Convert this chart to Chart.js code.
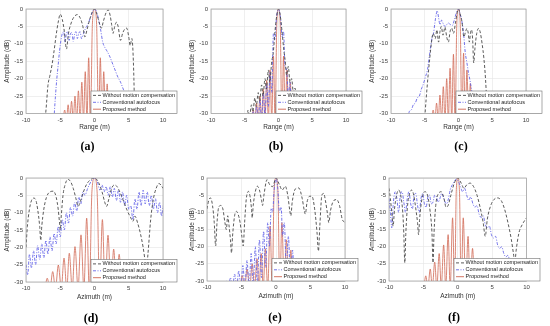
<!DOCTYPE html>
<html><head><meta charset="utf-8">
<script src="https://cdn.jsdelivr.net/npm/chart.js@4.4.1/dist/chart.umd.min.js"></script>
<style>
html,body{margin:0;padding:0;background:#fff;}
#wrap{position:relative;width:550px;height:326px;overflow:hidden;background:#fff;}
.cv{position:absolute;}
.lab{position:absolute;font-family:"Liberation Serif",serif;font-weight:bold;font-size:12px;color:#000;transform:translate(-50%,-50%);white-space:nowrap;}
</style></head><body><div id="wrap"></div>
<script>
// ---------- data (x in m, amplitude in dB) ----------
const seriesNames = ['Without motion compensation','Conventional autofocus','Proposed method'];
const xTicks = [-10,-5,0,5,10];
const yTicks = [0,-5,-10,-15,-20,-25,-30];
const panelLabels = ['(a)','(b)','(c)','(d)','(e)','(f)'];
const xTitles = ['Range (m)','Range (m)','Range (m)','Azimuth (m)','Azimuth (m)','Azimuth (m)'];

const a_noMC = [[-7.3,-34],[-7.0,-27],[-6.8,-22],[-6.5,-19],[-6.2,-16],[-5.9,-12],[-5.6,-7.5],[-5.3,-3.8],[-5.0,-1.5],[-4.7,-3],[-4.4,-6.5],[-4.1,-11.5],[-3.8,-7],[-3.4,-4],[-3.0,-2.3],[-2.5,-1.6],[-2.0,-3],[-1.7,-5],[-1.4,-8],[-1.1,-6],[-0.7,-3],[-0.35,-1],[0,0],[0.35,-1.5],[0.7,-4],[1.0,-5.5],[1.3,-3.5],[1.7,-1],[2.0,-0.3],[2.3,-2],[2.5,-4.5],[2.7,-7],[2.95,-5],[3.2,-3.8],[3.45,-5],[3.8,-9],[4.1,-7],[4.4,-5.8],[4.7,-5.5],[5.0,-8],[5.2,-10.5],[5.45,-8.5],[5.6,-11.5],[5.75,-20],[5.9,-34]];
const a_conv = [[-6.0,-34],[-5.7,-25],[-5.5,-20],[-5.3,-16],[-5.1,-12],[-4.9,-9],[-4.7,-7],[-4.5,-6.5],[-4.3,-9.5],[-4.1,-7],[-3.9,-6.5],[-3.7,-9],[-3.5,-7],[-3.3,-6.8],[-3.1,-9.3],[-2.9,-7.2],[-2.7,-6.5],[-2.5,-8.5],[-2.3,-7],[-2.1,-6.5],[-1.9,-8.5],[-1.6,-7],[-1.3,-5.5],[-1.0,-4.5],[-0.6,-2.5],[-0.3,-0.8],[0,0],[0.3,-0.8],[0.6,-3],[0.9,-6],[1.2,-9.5],[1.5,-11],[1.8,-12],[2.2,-13.5],[2.6,-15.5],[3.0,-17.5],[3.4,-19.5],[3.8,-21],[4.2,-23],[4.6,-25],[5.0,-27.5],[5.4,-30],[5.6,-34]];
const a_prop = [[-4.6,-32],[-4.35,-29],[-4.1,-32],[-3.85,-27.5],[-3.6,-32],[-3.35,-26.5],[-3.1,-32],[-2.85,-25],[-2.6,-32],[-2.35,-23.5],[-2.1,-32],[-1.85,-21],[-1.6,-32],[-1.35,-18],[-1.1,-32],[-0.85,-14],[-0.6,-33],[-0.3,-4],[0,0],[0.3,-4],[0.6,-33],[0.85,-14],[1.1,-32],[1.35,-18],[1.6,-32],[1.85,-21.5],[2.1,-32],[2.35,-24],[2.6,-32],[2.85,-27],[3.1,-32],[3.35,-29.5],[3.6,-32]];

const b_noMC = [[-4.8,-34],[-4.5,-29],[-4.3,-31],[-4.0,-27.5],[-3.8,-29.5],[-3.5,-25.5],[-3.3,-28],[-3.0,-24],[-2.8,-26.5],[-2.5,-21.8],[-2.3,-25],[-2.0,-20],[-1.8,-23],[-1.5,-17.5],[-1.3,-21],[-1.0,-15],[-0.8,-13],[-0.5,-6],[-0.25,-1.8],[0,0],[0.25,-1.8],[0.5,-6],[0.8,-12],[1.0,-15],[1.2,-19],[1.45,-16.5],[1.7,-21],[1.95,-20],[2.2,-24],[2.45,-22.7],[2.7,-26.5],[2.95,-24.6],[3.2,-28.5],[3.45,-26.5],[3.7,-31],[3.95,-29],[4.2,-34]];
const b_conv = [[-4.0,-32],[-3.75,-29.5],[-3.5,-32],[-3.25,-28],[-3.0,-32],[-2.75,-26],[-2.5,-32],[-2.25,-24],[-2.0,-31],[-1.75,-21.5],[-1.5,-28],[-1.25,-18],[-1.0,-24],[-0.75,-7],[-0.55,-9],[-0.3,-2.5],[0,0],[0.3,-2.5],[0.55,-8],[0.75,-6.5],[0.95,-16],[1.2,-17.5],[1.45,-25],[1.7,-21],[1.95,-30],[2.2,-24],[2.45,-32],[2.7,-27],[2.95,-32],[3.2,-29.5],[3.45,-32]];
const b_prop = [[-4.5,-32],[-4.25,-30.5],[-4.0,-32],[-3.75,-29],[-3.5,-32],[-3.25,-27],[-3.0,-32],[-2.75,-25],[-2.5,-32],[-2.25,-23],[-2.0,-32],[-1.75,-20.5],[-1.5,-32],[-1.25,-17.5],[-1.0,-32],[-0.75,-13.5],[-0.5,-33],[-0.25,-4],[0,0],[0.25,-4],[0.5,-33],[0.75,-13.5],[1.0,-32],[1.25,-17.5],[1.5,-32],[1.75,-21],[2.0,-32],[2.25,-23.5],[2.5,-32],[2.75,-26],[3.0,-32],[3.25,-28],[3.5,-32],[3.75,-30.5],[4.0,-32]];

const c_noMC = [[-5.1,-34],[-4.8,-26],[-4.5,-19],[-4.25,-14],[-4.0,-9.5],[-3.75,-7],[-3.45,-8.5],[-3.2,-6],[-2.95,-9.5],[-2.75,-6.5],[-2.55,-5],[-2.3,-7.5],[-2.0,-5.2],[-1.75,-8],[-1.5,-9.5],[-1.25,-6.5],[-1.0,-5.5],[-0.75,-7],[-0.45,-4],[-0.2,-1],[0,0],[0.25,-1.5],[0.5,-3.5],[0.8,-8],[1.05,-6.5],[1.25,-5.6],[1.45,-7],[1.6,-9.5],[1.8,-6.5],[1.95,-6],[2.1,-9],[2.25,-15.5],[2.45,-11],[2.7,-7],[2.95,-5.6],[3.2,-6.5],[3.5,-10],[3.75,-14],[4.0,-20],[4.15,-26],[4.25,-34]];
const c_conv = [[-7.6,-34],[-7.3,-29.5],[-7.0,-29],[-6.7,-27.5],[-6.4,-27],[-6.1,-25.5],[-5.8,-25],[-5.5,-23],[-5.2,-21.5],[-4.9,-19.5],[-4.6,-17.5],[-4.35,-14],[-4.1,-10.5],[-3.9,-8],[-3.7,-7],[-3.5,-4],[-3.3,-1.5],[-3.15,-0.5],[-2.95,-2.5],[-2.75,-4.5],[-2.5,-3.2],[-2.25,-4.3],[-2.0,-5],[-1.75,-4.5],[-1.5,-4],[-1.2,-4.5],[-0.9,-4.7],[-0.6,-3],[-0.3,-1],[0,0],[0.25,-1.5],[0.5,-3.5],[0.75,-7],[1.0,-12.5],[1.25,-15.5],[1.5,-18.5],[1.75,-21],[2.0,-24],[2.2,-27],[2.4,-30],[2.6,-34]];
const c_prop = [[-4.0,-32],[-3.75,-29],[-3.5,-32],[-3.25,-27],[-3.0,-32],[-2.75,-24.7],[-2.5,-32],[-2.25,-22.3],[-2.0,-32],[-1.75,-20],[-1.5,-32],[-1.25,-17],[-1.0,-32],[-0.75,-13],[-0.5,-33],[-0.25,-4],[0,0],[0.25,-4],[0.5,-33],[0.75,-12.7],[1.0,-32],[1.25,-17.5],[1.5,-32],[1.75,-21.4],[2.0,-32],[2.25,-24],[2.5,-32],[2.75,-27],[3.0,-32],[3.25,-29.5],[3.5,-32]];

const d_noMC = [[-10,-20],[-9.8,-14],[-9.5,-9],[-9.2,-6.5],[-8.9,-5.8],[-8.6,-6.2],[-8.3,-9],[-8.0,-14],[-7.85,-18],[-7.7,-14],[-7.4,-9],[-7.0,-5.5],[-6.5,-4],[-6.0,-3.8],[-5.6,-5.5],[-5.3,-9],[-5.1,-13],[-5.0,-15],[-4.85,-11],[-4.6,-5],[-4.3,-2],[-3.9,-0.4],[-3.5,-1],[-3.1,-3],[-2.7,-6],[-2.4,-8.2],[-2.1,-7],[-1.7,-4.5],[-1.2,-2],[-0.6,-0.5],[0,0],[0.6,-1.3],[1.1,-4],[1.5,-7],[1.75,-8.2],[2.1,-6],[2.5,-3],[2.9,-2],[3.3,-2.5],[3.8,-4.5],[4.3,-7],[4.8,-9.5],[5.3,-11.5],[5.6,-12.5],[5.9,-11],[6.3,-13],[6.7,-16],[7.1,-20],[7.4,-24],[7.6,-26],[7.8,-22],[8.2,-12],[8.6,-6],[9.0,-3],[9.4,-1.6],[9.7,-2],[10,-3]];
const d_conv = [[-10,-25],[-9.75,-28],[-9.5,-22],[-9.2,-26],[-8.9,-21],[-8.6,-25],[-8.3,-19.5],[-8.0,-23.5],[-7.7,-19],[-7.4,-23],[-7.1,-18],[-6.8,-22],[-6.5,-17],[-6.2,-21],[-5.9,-16],[-5.6,-19],[-5.3,-14],[-5.0,-17],[-4.7,-12],[-4.4,-15],[-4.1,-10],[-3.8,-13],[-3.5,-8.5],[-3.2,-11],[-2.9,-7],[-2.6,-9.5],[-2.3,-5.5],[-2.0,-7.5],[-1.7,-4],[-1.4,-5],[-1.0,-3],[-0.5,-1],[0,0],[0.4,-1],[0.8,-3.5],[1.1,-2],[1.4,-4],[1.7,-2.5],[2.0,-5],[2.3,-2.5],[2.6,-5.5],[2.9,-3],[3.2,-6.5],[3.5,-3.5],[3.8,-7],[4.1,-4],[4.4,-8],[4.7,-5],[5.0,-9],[5.3,-8],[5.6,-12],[5.9,-6],[6.2,-9],[6.5,-4],[6.8,-8],[7.1,-3.5],[7.4,-7.5],[7.7,-4],[8.0,-8],[8.3,-5],[8.6,-9],[8.9,-6],[9.2,-10],[9.5,-7],[9.8,-11],[10,-8]];
const d_prop = [[-8.1,-32],[-7.7,-30.5],[-7.3,-32],[-6.9,-28.9],[-6.5,-32],[-6.1,-27],[-5.7,-32],[-5.28,-25.1],[-4.85,-32],[-4.45,-23.1],[-4.05,-32],[-3.68,-21.7],[-3.25,-32],[-2.85,-19.8],[-2.4,-32],[-1.97,-16.4],[-1.55,-32],[-1.14,-11.6],[-0.75,-33],[-0.38,-4],[0,0],[0.38,-4],[0.75,-33],[1.15,-12],[1.55,-32],[1.97,-16.5],[2.4,-32],[2.8,-20.5],[3.2,-32],[3.6,-22],[4.0,-32],[4.4,-24],[4.8,-32],[5.2,-26.5],[5.6,-32],[6.0,-28.5],[6.4,-32],[6.8,-30.5],[7.2,-32]];

const e_noMC = [[-10,-9],[-9.75,-6.5],[-9.5,-5.8],[-9.2,-8],[-8.95,-13],[-8.75,-19.8],[-8.55,-13],[-8.3,-8.5],[-8.0,-8],[-7.7,-9],[-7.4,-13],[-7.2,-15],[-7.0,-11],[-6.8,-14],[-6.6,-18],[-6.45,-21.8],[-6.3,-17],[-6.0,-11],[-5.75,-9.7],[-5.5,-10.5],[-5.2,-13],[-4.95,-17],[-4.75,-19.8],[-4.55,-13],[-4.3,-6],[-4.0,-3.9],[-3.75,-5.5],[-3.55,-9],[-3.45,-11.6],[-3.3,-8],[-3.0,-4],[-2.7,-2.4],[-2.4,-3.5],[-2.1,-6.5],[-1.95,-8],[-1.75,-5],[-1.3,-0.5],[-0.9,-2],[-0.5,-2.5],[0,0],[0.5,-2],[0.9,-3.5],[1.35,-2.4],[1.7,-5],[2.0,-9.5],[2.15,-11],[2.35,-7],[2.8,-3.2],[3.3,-2.9],[3.8,-6],[4.1,-9.5],[4.25,-10.5],[4.5,-7],[4.9,-5.3],[5.2,-5.3],[5.6,-9],[5.95,-16],[6.15,-21.3],[6.35,-14],[6.65,-5],[6.9,-4.5],[7.2,-7],[7.5,-11],[7.65,-13],[7.9,-9.5],[8.4,-6.5],[8.8,-6.3],[9.2,-8],[9.6,-12],[10,-13]];
const e_conv = [[-7.5,-32],[-7.2,-30],[-6.9,-32],[-6.6,-29],[-6.3,-32],[-6.0,-28],[-5.7,-32],[-5.4,-27],[-5.1,-32],[-4.8,-25.5],[-4.5,-32],[-4.2,-24],[-3.9,-32],[-3.6,-22],[-3.3,-32],[-3.0,-20],[-2.7,-31],[-2.4,-18],[-2.1,-29],[-1.8,-15.5],[-1.5,-26],[-1.2,-13],[-0.95,-20],[-0.7,-9],[-0.5,-10],[-0.25,-3],[0,0],[0.25,-3],[0.5,-10],[0.75,-8.5],[0.95,-17],[1.2,-13],[1.5,-26],[1.8,-17],[2.1,-30],[2.4,-21],[2.7,-32],[3.0,-25],[3.3,-32],[3.6,-29],[3.9,-32]];
const e_prop = [[-5.95,-32],[-5.6,-29.8],[-5.25,-32],[-4.9,-28.4],[-4.55,-32],[-4.2,-26.5],[-3.8,-32],[-3.45,-25],[-3.1,-32],[-2.75,-23.5],[-2.45,-32],[-2.15,-22],[-1.85,-32],[-1.54,-20.6],[-1.2,-32],[-0.85,-14],[-0.55,-33],[-0.28,-4],[0,0],[0.28,-4],[0.55,-33],[0.85,-13],[1.2,-32],[1.5,-18],[1.85,-32],[2.15,-21],[2.45,-32],[2.8,-24.5],[3.1,-32],[3.45,-27.5],[3.8,-32],[4.1,-29.5],[4.45,-32]];

const f_noMC = [[-10,-3],[-9.8,-6],[-9.6,-10],[-9.4,-14],[-9.2,-9],[-8.9,-5],[-8.6,-3.5],[-8.3,-5],[-8.0,-10],[-7.85,-16],[-7.7,-24.7],[-7.55,-16],[-7.3,-8],[-7.0,-4.5],[-6.7,-3.5],[-6.4,-5],[-6.1,-9],[-5.85,-13],[-5.7,-16.5],[-5.55,-12],[-5.2,-6],[-4.8,-4],[-4.4,-5],[-4.0,-10],[-3.75,-16],[-3.6,-24.7],[-3.45,-16],[-3.2,-8],[-2.8,-4.5],[-2.4,-4],[-2.0,-6],[-1.7,-8.5],[-1.4,-8],[-1.0,-5],[-0.5,-1.5],[0,0],[0.5,-1.5],[0.9,-3],[1.3,-2],[1.8,-1.5],[2.3,-2.5],[2.8,-5],[3.3,-9],[3.7,-13],[4.0,-17],[4.3,-12],[4.8,-8],[5.3,-6.2],[5.8,-5.8],[6.3,-6.5],[6.8,-9],[7.3,-13],[7.8,-18],[8.1,-22],[8.3,-24.7],[8.5,-21],[8.9,-16],[9.4,-13.5],[10,-11.6]];
const f_conv = [[-10,-6],[-9.8,-10],[-9.6,-14.5],[-9.4,-8],[-9.1,-4],[-8.85,-6],[-8.6,-10],[-8.35,-5],[-8.1,-4],[-7.85,-7],[-7.6,-10],[-7.35,-6],[-7.1,-4],[-6.85,-7.5],[-6.6,-9],[-6.35,-5],[-6.1,-4.5],[-5.85,-8],[-5.6,-10],[-5.35,-6],[-5.1,-4.5],[-4.85,-7.5],[-4.6,-8.5],[-4.35,-5.5],[-4.1,-5],[-3.85,-7.5],[-3.6,-7],[-3.35,-5],[-3.1,-5.5],[-2.85,-7],[-2.6,-6],[-2.35,-4.5],[-2.1,-5.5],[-1.85,-7],[-1.6,-7.5],[-1.35,-6],[-1.1,-3.5],[-0.8,-2],[-0.5,-1],[-0.2,-0.3],[0.1,-1],[0.4,-2.5],[0.7,-4],[1.0,-3],[1.3,-5],[1.6,-6.5],[1.9,-5.5],[2.2,-7.5],[2.5,-8.5],[2.8,-8],[3.1,-10.5],[3.4,-11.5],[3.7,-11],[4.0,-13.5],[4.3,-14.5],[4.6,-14],[4.9,-16.5],[5.2,-17.5],[5.5,-17],[5.8,-19.5],[6.1,-20.5],[6.4,-20],[6.7,-22],[7.0,-23],[7.3,-22.5],[7.6,-24.5],[7.9,-25.5],[8.2,-25],[8.5,-27],[8.8,-29],[9.1,-34]];
const f_prop = [[-5.6,-32],[-5.3,-30.5],[-5.0,-32],[-4.65,-28.5],[-4.35,-32],[-4.0,-26.5],[-3.7,-32],[-3.35,-24.5],[-3.05,-32],[-2.7,-22],[-2.4,-32],[-2.05,-19.5],[-1.75,-32],[-1.4,-16.5],[-1.1,-32],[-0.75,-11.6],[-0.45,-33],[-0.22,-4],[0,0],[0.25,-4],[0.5,-33],[0.8,-11.6],[1.15,-32],[1.5,-17],[1.8,-32],[2.15,-20.5],[2.5,-32],[2.8,-23.5],[3.15,-32],[3.45,-26],[3.8,-32],[4.1,-28.5],[4.45,-32],[4.75,-30.5],[5.1,-32]];

const panelSeries = [
  [a_noMC,a_conv,a_prop],[b_noMC,b_conv,b_prop],[c_noMC,c_conv,c_prop],
  [d_noMC,d_conv,d_prop],[e_noMC,e_conv,e_prop],[f_noMC,f_conv,f_prop]
];

// ---------- layout / style ----------
const layoutBoxes = [
  {left:0,  top:0,   yw:26, plotR:163,   plotT:9,  plotB:113.5, tpb:2.2, lx:87.5, ly:146},
  {left:185,top:0,   yw:26, plotR:161,   plotT:9,  plotB:113.5, tpb:2.2, lx:91,   ly:146},
  {left:365,top:0,   yw:26, plotR:161,   plotT:9,  plotB:113.5, tpb:2.2, lx:96,   ly:146},
  {left:0,  top:163, yw:26, plotR:163,   plotT:15, plotB:119,   tpb:0.5, lx:91,   ly:155},
  {left:185,top:163, yw:22, plotR:160,   plotT:15, plotB:118,   tpb:0.5, lx:90,   ly:154},
  {left:365,top:163, yw:24, plotR:161.5, plotT:15, plotB:118,   tpb:0.5, lx:89,   ly:154}
];
const CW = 185, CH = 145;
const styles = [
  {color:'rgb(72,72,72)',   dash:[3,2],         width:0.9},
  {color:'rgb(100,100,232)',dash:[3,1.5,1,1.5], width:0.9},
  {color:'rgb(208,104,84)', dash:[],            width:0.8}
];
Chart.defaults.font.family = '"Liberation Sans", Arial, sans-serif';

const boxLegend = {
  id:'boxLegend',
  afterDatasetsDraw(chart){
    const {ctx, chartArea:ca} = chart;
    ctx.save();
    ctx.strokeStyle = '#9a9a9a'; ctx.lineWidth = 0.7; ctx.setLineDash([]);
    ctx.strokeRect(ca.left, ca.top, ca.right-ca.left, ca.bottom-ca.top);
    const bw = 86, bh = 22.5, bx = ca.left + 65, by = ca.bottom - bh;
    ctx.fillStyle = '#fff'; ctx.fillRect(bx, by, bw, bh);
    ctx.strokeStyle = '#6e6e6e'; ctx.lineWidth = 0.6;
    ctx.strokeRect(bx, by, bw, bh);
    chart.data.datasets.forEach((ds,i)=>{
      const y = by + 4.4 + i*6.9;
      ctx.beginPath(); ctx.setLineDash(ds.borderDash||[]);
      ctx.strokeStyle = ds.borderColor; ctx.lineWidth = 0.9;
      ctx.moveTo(bx+2, y); ctx.lineTo(bx+10, y); ctx.stroke();
      ctx.setLineDash([]);
      ctx.fillStyle = '#222'; ctx.font = '5.5px "Liberation Sans", Arial, sans-serif';
      ctx.textBaseline = 'middle'; ctx.textAlign = 'left';
      ctx.fillText(ds.label, bx+11.5, y);
    });
    ctx.restore();
  }
};

const wrap = document.getElementById('wrap');
layoutBoxes.forEach((L, k)=>{
  const cv = document.createElement('canvas');
  cv.className = 'cv'; cv.width = CW; cv.height = CH;
  cv.style.left = L.left+'px'; cv.style.top = L.top+'px';
  cv.style.width = CW+'px'; cv.style.height = CH+'px';
  wrap.appendChild(cv);
  const lab = document.createElement('div');
  lab.className = 'lab'; lab.textContent = panelLabels[k];
  lab.style.left = (L.left+L.lx)+'px'; lab.style.top = (L.top+L.ly)+'px';
  wrap.appendChild(lab);

  const datasets = panelSeries[k].map((arr,i)=>({
    label: seriesNames[i],
    data: arr.map(p=>({x:p[0], y:p[1]})),
    borderColor: styles[i].color,
    borderDash: styles[i].dash,
    borderWidth: styles[i].width,
    pointRadius: 0,
    fill: false,
    cubicInterpolationMode: 'monotone'
  }));
  new Chart(cv, {
    type:'line',
    data:{datasets},
    plugins:[boxLegend],
    options:{
      responsive:false, animation:false, events:[],
      layout:{padding:{left:0, top:L.plotT, right:CW-L.plotR, bottom:CH-L.plotB-20}},
      plugins:{legend:{display:false}, tooltip:{enabled:false}},
      scales:{
        x:{type:'linear', min:-10, max:10,
           afterBuildTicks:s=>{s.ticks = xTicks.map(v=>({value:v}));},
           afterFit:s=>{s.height = 20;},
           grid:{color:'#e4e4e4', lineWidth:0.6, drawTicks:false},
           border:{display:false},
           ticks:{font:{size:6}, color:'#404040', padding:3, maxRotation:0, autoSkip:false},
           title:{display:true, text:xTitles[k], font:{size:6.5}, color:'#333', padding:{top:0,bottom:L.tpb}}},
        y:{type:'linear', min:-30, max:0,
           afterBuildTicks:s=>{s.ticks = yTicks.map(v=>({value:v}));},
           afterFit:s=>{s.width = L.yw;},
           grid:{color:'#e4e4e4', lineWidth:0.6, drawTicks:false},
           border:{display:false},
           ticks:{font:{size:6}, color:'#404040', padding:3, autoSkip:false},
           title:{display:true, text:'Amplitude (dB)', font:{size:6.5}, color:'#333', padding:{top:3,bottom:0}}}
      }
    }
  });
});
</script></body></html>
